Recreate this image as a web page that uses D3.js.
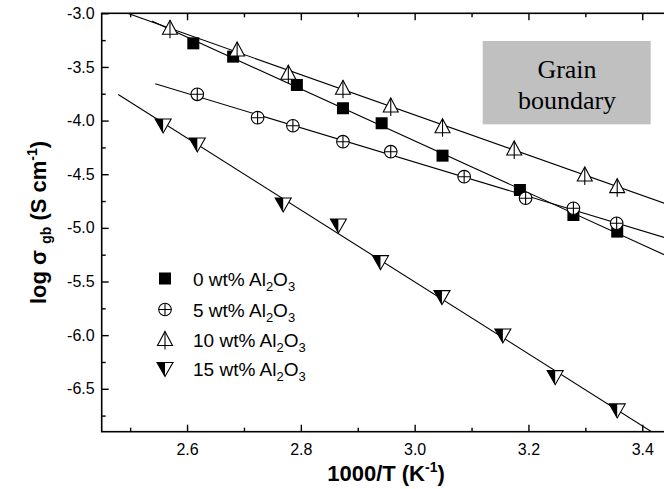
<!DOCTYPE html>
<html>
<head>
<meta charset="utf-8">
<script src="https://cdn.jsdelivr.net/npm/d3@7/dist/d3.min.js"></script>
<style>
  body { margin: 0; background: #fff; }
</style>
</head>
<body>
<svg id="chart"></svg>
<script>
// ── Data ────────────────────────────────────────────────────────────────
// x = 1000/T (K^-1), y = log sigma_gb (S cm^-1)
const x0  = [2.611, 2.681, 2.793, 2.874, 2.942, 3.049, 3.185, 3.279, 3.356];
const y0  = [-3.280, -3.404, -3.668, -3.885, -4.025, -4.327, -4.647, -4.880, -5.035];

const x5  = [2.618, 2.724, 2.786, 2.874, 2.958, 3.087, 3.195, 3.279, 3.355];
const y5  = [-3.755, -3.973, -4.048, -4.197, -4.290, -4.523, -4.724, -4.817, -4.957];

const x10 = [2.570, 2.688, 2.778, 2.874, 2.958, 3.049, 3.175, 3.299, 3.356];
const y10 = [-3.140, -3.342, -3.559, -3.699, -3.864, -4.057, -4.265, -4.507, -4.616];

const x15 = [2.558, 2.618, 2.769, 2.866, 2.940, 3.048, 3.155, 3.247, 3.356];
const y15 = [-4.041, -4.218, -4.777, -4.973, -5.315, -5.641, -5.998, -6.387, -6.697];

const labels   = ["0", "5", "10", "15"];
const fitStart = [2.538, 2.544, 2.49, 2.479];   // where each fitted line begins
const fitEnd   = 3.45;

const xTicks = [2.6, 2.8, 3.0, 3.2, 3.4];
const xMinor = [2.5, 2.7, 2.9, 3.1, 3.3];
const yTicks = [-3.0, -3.5, -4.0, -4.5, -5.0, -5.5, -6.0, -6.5];
const yMinor = [-3.25, -3.75, -4.25, -4.75, -5.25, -5.75, -6.25, -6.75];

// ── Setup ───────────────────────────────────────────────────────────────
const W = 664, H = 489;
const SANS = "'Liberation Sans', Arial, sans-serif";
const svg = d3.select("#chart").attr("width", W).attr("height", H)
    .style("font-family", SANS);

const x = d3.scaleLinear().domain([2.45, 3.45]).range([101.7, 670.7]);
const y = d3.scaleLinear().domain([-6.9, -3.0]).range([431.7, 13.3]);

const series = [
    { xs: x0,  ys: y0,  type: "square" },
    { xs: x5,  ys: y5,  type: "circle" },
    { xs: x10, ys: y10, type: "up" },
    { xs: x15, ys: y15, type: "down" }
];

svg.append("defs").append("clipPath").attr("id", "plot")
  .append("rect")
    .attr("x", x(2.45)).attr("y", y(-3.0))
    .attr("width", x(3.45) - x(2.45)).attr("height", y(-6.9) - y(-3.0));

// ── Axes ────────────────────────────────────────────────────────────────
const gBottom = svg.append("g").attr("transform", `translate(0,${y(-6.9)})`);
gBottom.call(d3.axisBottom(x).tickValues(xTicks).tickSize(-7).tickPadding(12)
        .tickFormat(d3.format(".1f")));
gBottom.append("g").call(d3.axisBottom(x).tickValues(xMinor).tickSize(-4).tickFormat(""));

const gTop = svg.append("g").attr("transform", `translate(0,${y(-3.0)})`);
gTop.call(d3.axisTop(x).tickValues(xTicks).tickSize(-7).tickFormat(""));
gTop.append("g").call(d3.axisTop(x).tickValues(xMinor).tickSize(-4).tickFormat(""));

const gLeft = svg.append("g").attr("transform", `translate(${x(2.45)},0)`);
gLeft.call(d3.axisLeft(y).tickValues(yTicks).tickSize(-7).tickPadding(7)
      .tickFormat(d3.format(".1f")));
gLeft.append("g").call(d3.axisLeft(y).tickValues(yMinor).tickSize(-4).tickFormat(""));

svg.selectAll(".domain").remove();
svg.selectAll(".tick line").attr("stroke", "#000").attr("stroke-width", 1.4);
svg.selectAll(".tick text")
    .attr("fill", "#000")
    .style("font-size", "16px").style("font-family", SANS)
    .text(function() { return this.textContent.replace("−", "-"); });

svg.append("rect")
    .attr("x", x(2.45)).attr("y", y(-3.0))
    .attr("width", x(3.45) - x(2.45)).attr("height", y(-6.9) - y(-3.0))
    .attr("fill", "none").attr("stroke", "#000").attr("stroke-width", 1.6);

// ── Grain boundary box ──────────────────────────────────────────────────
svg.append("rect")
    .attr("x", 482.7).attr("y", 41).attr("width", 168).attr("height", 83.3)
    .attr("fill", "#c0c0c0");
const gb = svg.append("text")
    .attr("text-anchor", "middle")
    .style("font-family", "'Liberation Serif', 'Times New Roman', serif")
    .style("font-size", "26px").attr("fill", "#000");
gb.append("tspan").attr("x", 567).attr("y", 77.5).text("Grain");
gb.append("tspan").attr("x", 567).attr("y", 108.5).text("boundary");

// ── Fitted lines ────────────────────────────────────────────────────────
const lines = svg.append("g").attr("clip-path", "url(#plot)");
series.forEach((s, i) => {
    const mx = d3.mean(s.xs), my = d3.mean(s.ys);
    const sxy = d3.sum(s.xs, (v, k) => (v - mx) * (s.ys[k] - my));
    const sxx = d3.sum(s.xs, v => (v - mx) * (v - mx));
    const b = sxy / sxx, a = my - b * mx;
    lines.append("line")
        .attr("x1", x(fitStart[i])).attr("y1", y(a + b * fitStart[i]))
        .attr("x2", x(fitEnd)).attr("y2", y(a + b * fitEnd))
        .attr("stroke", "#000").attr("stroke-width", 1.1);
});

// ── Markers ─────────────────────────────────────────────────────────────
function marker(g, type) {
    const st = { stroke: "#000", "stroke-width": 1.1 };
    const set = (sel, o) => { Object.entries(o).forEach(([k, v]) => sel.attr(k, v)); return sel; };
    if (type === "square") {
        g.append("rect").attr("x", -6).attr("y", -6).attr("width", 12).attr("height", 12)
            .attr("fill", "#000");
    } else if (type === "circle") {
        set(g.append("circle").attr("r", 6.3).attr("fill", "#fff"), st);
        set(g.append("path").attr("d", "M-6.3,0H6.3M0,-6.3V6.3").attr("fill", "none"), st);
    } else if (type === "up") {
        set(g.append("path").attr("d", "M0,-8L7.5,6L-7.5,6Z").attr("fill", "#fff"), st);
        set(g.append("path").attr("d", "M0,-8V10").attr("fill", "none"), st);
    } else {
        set(g.append("path").attr("d", "M-8,-6L8,-6L0,8Z").attr("fill", "#fff"), st);
        g.append("path").attr("d", "M-8,-6L0,-6L0,8Z").attr("fill", "#000");
    }
}

series.forEach(s => {
    s.xs.forEach((v, k) => {
        marker(svg.append("g").attr("transform", `translate(${x(v)},${y(s.ys[k])})`), s.type);
    });
});

// ── Legend ──────────────────────────────────────────────────────────────
const legY = [278.5, 309.5, 339.5, 368.5];
series.forEach((s, i) => {
    marker(svg.append("g").attr("transform", `translate(165,${legY[i]})`), s.type);
    const t = svg.append("text")
        .attr("x", 193).attr("y", legY[i] + 7)
        .style("font-size", "19px").attr("fill", "#000");
    t.append("tspan").text(labels[i] + " wt% Al");
    t.append("tspan").style("font-size", "13px").attr("dy", 5).text("2");
    t.append("tspan").attr("dy", -5).text("O");
    t.append("tspan").style("font-size", "13px").attr("dy", 5).text("3");
});

// ── Axis titles ─────────────────────────────────────────────────────────
const xt = svg.append("text")
    .attr("x", 386).attr("y", 481)
    .attr("text-anchor", "middle")
    .style("font-size", "22px").style("font-weight", "bold").attr("fill", "#000");
xt.append("tspan").text("1000/T (K");
xt.append("tspan").style("font-size", "14px").attr("dy", -9).text("-1");
xt.append("tspan").attr("dy", 9).text(")");

const yt = svg.append("text")
    .attr("transform", `translate(46,${(y(-3.0) + y(-6.9)) / 2}) rotate(-90)`)
    .attr("text-anchor", "middle")
    .style("font-size", "22px").style("font-weight", "bold").attr("fill", "#000");
yt.append("tspan").text("log  σ ");
yt.append("tspan").style("font-size", "14px").attr("dy", 5).text("gb");
yt.append("tspan").attr("dy", -5).text(" (S cm");
yt.append("tspan").style("font-size", "14px").attr("dy", -9).text("-1");
yt.append("tspan").attr("dy", 9).text(")");
</script>
</body>
</html>
